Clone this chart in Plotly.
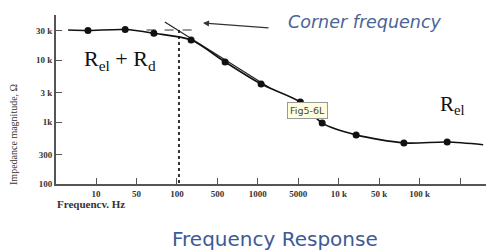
import plotly.graph_objects as go

# x axis: evenly spaced frequency ticks (positions 0..9)
x_tick_pos = [0, 1, 2, 3, 4, 5, 6, 7, 8, 9]
x_tick_labels = ["10", "50", "100", "500", "1000", "5000", "10 k", "50 k", "100 k", ""]
y_tick_vals = [100, 300, 1000, 3000, 10000, 30000]
y_tick_labels = ["100", "300", "1k", "3 k", "10 k", "30 k"]

# measured points (position on frequency scale, impedance in ohm)
pt_pos = [-0.20, 0.72, 1.43, 2.35, 3.19, 4.08, 5.05, 5.59, 6.43, 7.61, 8.68]
pt_imp = [30000, 31000, 27000, 21000, 9300, 4100, 2100, 960, 620, 460, 475]

# smooth curve through the data
curve_pos = [-0.69, -0.20, 0.72, 1.43, 2.35, 3.19, 4.08, 5.05, 5.59, 6.43, 7.61, 8.68, 9.57]
curve_imp = [30500, 30000, 31000, 27000, 21000, 9300, 4100, 2100, 960, 620, 460, 475, 430]

# asymptotes
asym_hi_pos = [1.25, 2.40]
asym_hi_imp = [30500, 30500]
asym_lo_pos = [1.70, 4.30]
asym_lo_imp = [41000, 3530]
corner_pos = [2.05, 2.05]
corner_imp = [30500, 100]

fig = go.Figure()
fig.add_trace(go.Scatter(x=corner_pos, y=corner_imp, mode="lines",
                         line=dict(color="#333", width=2, dash="dot"), hoverinfo="skip"))
fig.add_trace(go.Scatter(x=asym_hi_pos, y=asym_hi_imp, mode="lines",
                         line=dict(color="#333", width=1.2, dash="dash"), hoverinfo="skip"))
fig.add_trace(go.Scatter(x=asym_lo_pos, y=asym_lo_imp, mode="lines",
                         line=dict(color="#222", width=1.2), hoverinfo="skip"))
fig.add_trace(go.Scatter(x=curve_pos, y=curve_imp, mode="lines", line_shape="spline",
                         line=dict(color="#111", width=1.6, smoothing=0.8), hoverinfo="skip"))
fig.add_trace(go.Scatter(x=pt_pos, y=pt_imp, mode="markers",
                         marker=dict(color="#111", size=7), hoverinfo="skip"))

serif = "Liberation Serif"


def txt(x, y, text, font, xanchor="center", **kw):
    d = dict(xref="paper", yref="paper", x=x, y=y, text=text, showarrow=False,
             xanchor=xanchor, yanchor="middle", font=font)
    d.update(kw)
    return d


fig.update_layout(
    width=486, height=252,
    margin=dict(l=56, r=0, t=15, b=68),
    paper_bgcolor="white", plot_bgcolor="white",
    showlegend=False,
    xaxis=dict(range=[-0.99, 9.64], tickvals=x_tick_pos, ticktext=x_tick_labels,
               showgrid=False, zeroline=False, showline=True, linecolor="#555", linewidth=1.5,
               ticks="inside", ticklen=6, tickcolor="#555", automargin=False,
               tickfont=dict(family=serif, size=9, color="#333", weight="bold")),
    yaxis=dict(type="log", range=[2, 4.726], tickvals=y_tick_vals, ticktext=y_tick_labels,
               showgrid=False, zeroline=False, showline=True, linecolor="#555", linewidth=2,
               ticks="inside", ticklen=6, tickcolor="#555", automargin=False,
               tickfont=dict(family=serif, size=9, color="#333", weight="bold")),
    annotations=[
        dict(xref="paper", yref="paper", x=0.3419, y=0.9527, ax=67, ay=5,
             showarrow=True, arrowhead=2, arrowsize=1, arrowwidth=1.2, arrowcolor="#333", text=""),
        txt(0.7186, 0.9586, "<i>Corner frequency</i>",
            dict(family="DejaVu Sans", size=17.5, color="#4a6496")),
        txt(0.509, -0.325, "Frequency Response",
            dict(family="DejaVu Sans", size=20, color="#3d5a96")),
        txt(0.0605, 0.734, "R<sub>el</sub> + R<sub>d</sub>",
            dict(family=serif, size=22, color="#111"), xanchor="left"),
        txt(0.888, 0.467, "R<sub>el</sub>",
            dict(family=serif, size=21, color="#111"), xanchor="left"),
        txt(0.586, 0.432, "Fig5-6L", dict(family="DejaVu Sans", size=9.5, color="#444"),
            bgcolor="#ffffe0", bordercolor="#999", borderwidth=1, borderpad=2),
        txt(-0.0977, 0.296, "Impedance magnitude, Ω",
            dict(family=serif, size=10, color="#333"), textangle=-90),
        txt(-0.0023, -0.12, "<b>Frequencv. Hz</b>",
            dict(family=serif, size=11, color="#333"), xanchor="left"),
    ],
)

fig.write_html("out.html", config={"displayModeBar": False},
               post_script="document.body.style.margin='0px';")
